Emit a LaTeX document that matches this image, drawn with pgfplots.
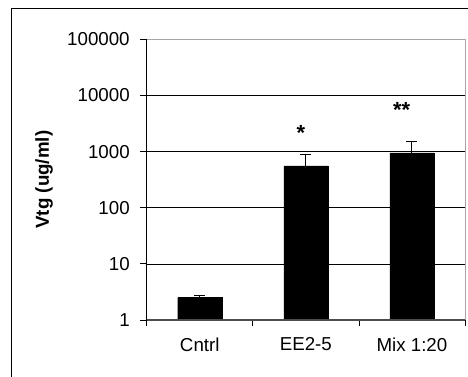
\documentclass[border=0pt]{standalone}
\usepackage{pgfplots}
\pgfplotsset{compat=1.18}
\usepackage{pgfplotstable}
\usepackage{fontspec}
\setmainfont{Liberation Sans}
\pgfplotstableread{
x y err
0 2.5 0.2
1 556 328
2 948 559
}\data
\begin{document}
\begin{tikzpicture}
\useasboundingbox (0,0) rectangle (468bp,377bp);
\draw[black, line width=1bp] (11bp,-10bp) -- (11bp,368bp) -- (480bp,368bp);
\begin{axis}[
  at={(146.7bp,57bp)}, anchor=south west, scale only axis,
  width=318.3bp, height=280.7bp,
  font=\fontsize{18.8}{21}\selectfont,
  ymode=log, ymin=1, ymax=100000, xmin=-0.5, xmax=2.5,
  ytick={1,10,100,1000,10000,100000},
  yticklabels={1,10,100,1000,10000,100000},
  yminorticks=false,
  xtick pos=bottom, ytick pos=left,
  ymajorgrids, grid style={black, line width=0.7bp},
  xtick={-0.5,0.5,1.5,2.5}, xticklabels={},
  extra x ticks={0,1,2},
  extra x tick labels={Cntrl,EE2-5,Mix 1:20},
  extra x tick style={major tick length=0pt, grid=none},
  xticklabel style={yshift=-14bp},
  yticklabel style={xshift=-7bp},
  tick align=outside, major tick length=6.5bp,
  tick style={black, line width=0.8bp},
  axis line style={draw=none},
  ylabel={\bfseries Vtg (ug/ml)},
  ylabel style={at={(axis description cs:-0.3227,0.5)}, anchor=center},
  clip=false,
]
\addplot[ybar, bar width=0.415, fill=black, draw=black,
  error bars/.cd, y dir=plus, y explicit,
  error bar style={black, line width=1bp},
  error mark options={black, rotate=90, mark size=5.5bp, line width=1bp}]
  table[x=x, y=y, y error=err]{\data};
\draw[gray!70, line width=0.8bp] (rel axis cs:0,1) -- (rel axis cs:1,1) -- (rel axis cs:1,0);
\draw[black!70, line width=1.2bp] (rel axis cs:0,0) -- (rel axis cs:1,0);
\draw[black, line width=0.9bp] (rel axis cs:0,0) -- (rel axis cs:0,1);
\node[anchor=north, inner sep=0pt, font=\fontsize{22}{24}\selectfont\bfseries] at (axis cs:0.954,2974) {*};
\node[anchor=north, inner sep=0pt, font=\fontsize{22}{24}\selectfont\bfseries] at (axis cs:1.903,7640) {**};
\end{axis}
\end{tikzpicture}
\end{document}
